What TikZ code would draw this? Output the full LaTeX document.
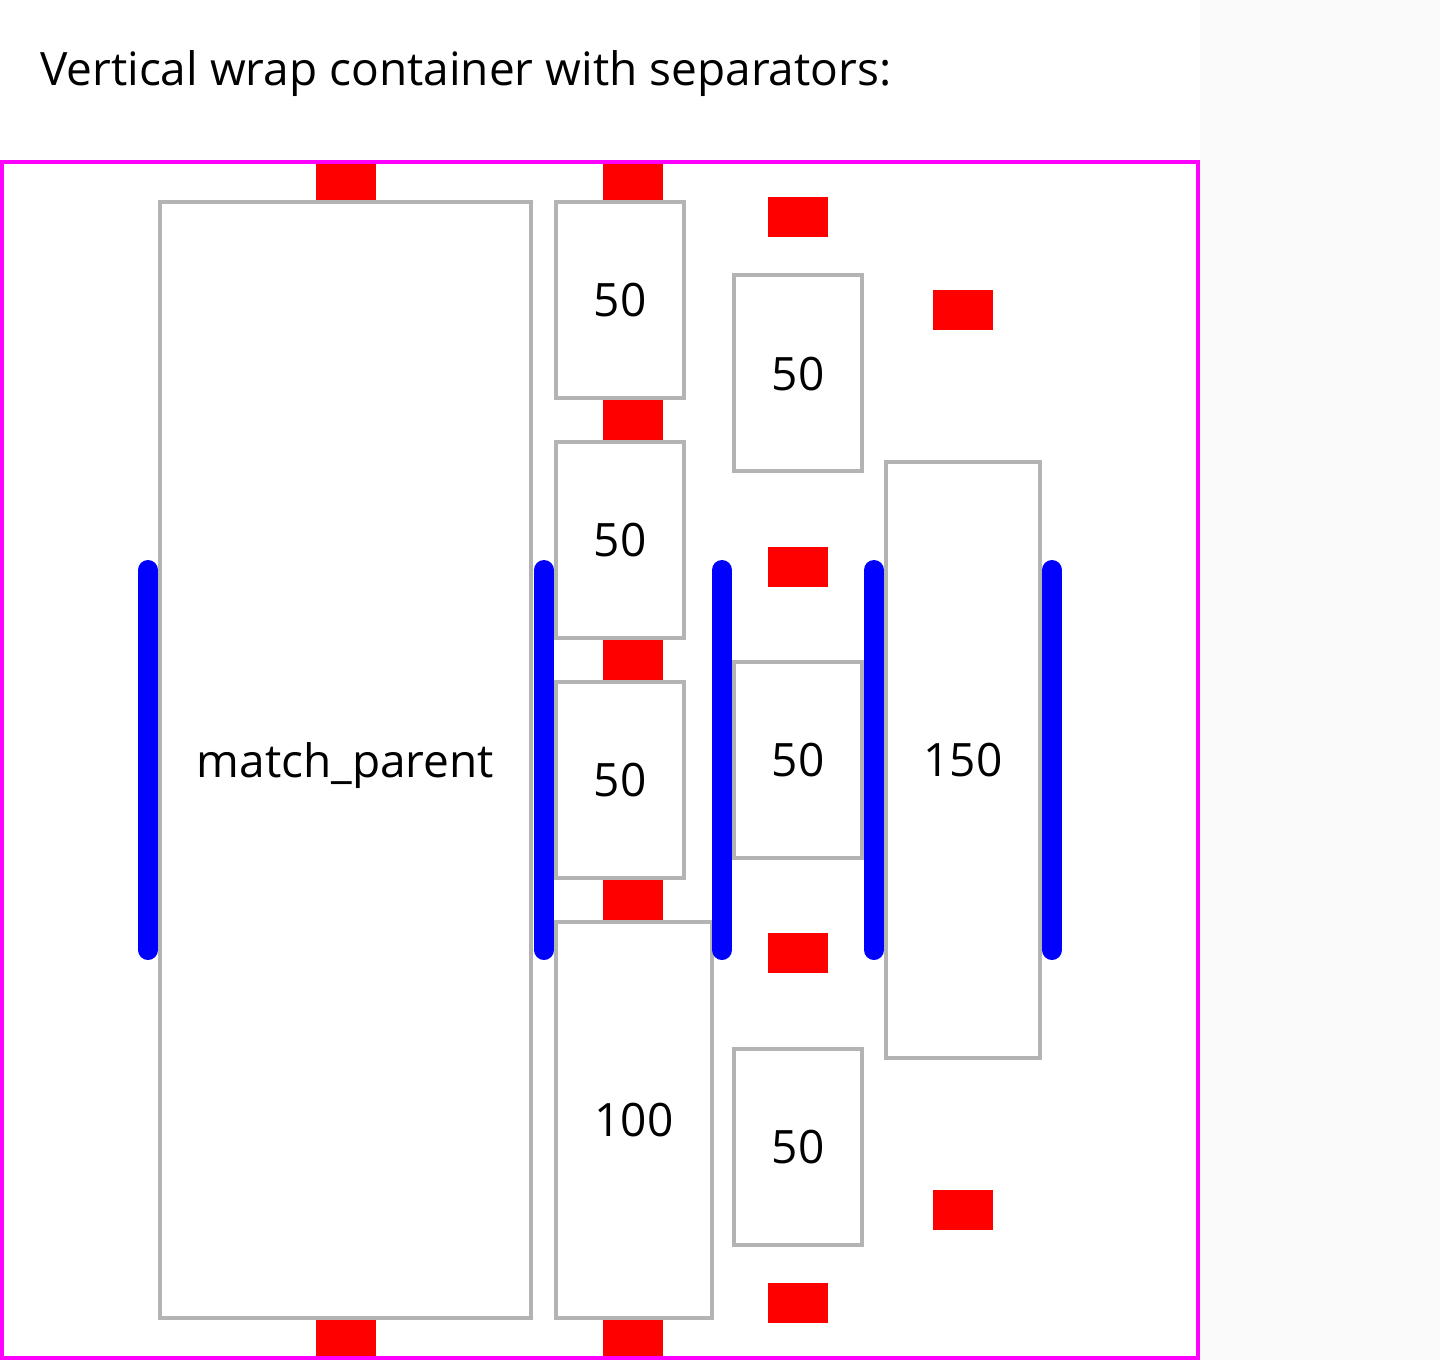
\documentclass[tikz,border=0pt]{standalone}
\usepackage{fontspec}
\setmainfont{Open Sans}
\usepackage{xcolor}
\usetikzlibrary{positioning}

\definecolor{boxgray}{HTML}{B3B3B3}
\definecolor{pagegray}{HTML}{FAFAFA}
\definecolor{framemagenta}{HTML}{FF00FF}
\definecolor{sepred}{HTML}{FF0000}
\definecolor{sepblue}{HTML}{0000FF}

\tikzset{
    itembox/.style={draw=boxgray, line width=4pt, fill=white, inner sep=0pt, outer sep=0pt,
        minimum width=128pt, minimum height=196pt, text depth=0pt, font=\fontsize{46}{56}\selectfont},
    sepmark/.style={fill=sepred, inner sep=0pt, outer sep=0pt, minimum width=60pt, minimum height=40pt},
    sepline/.style={draw=sepblue, line width=20pt, line cap=round}
}

\begin{document}
\begin{tikzpicture}[x=1pt, y=-1pt]
    % Page
    \useasboundingbox (0,0) rectangle (1440,1360);
    \fill[white] (0,0) rectangle (1200,1360);
    \fill[pagegray] (1200,0) rectangle (1440,1360);

    % Title
    \node[anchor=base west, inner sep=0pt, font=\fontsize{46}{56}\selectfont] (title) at (40,85)
        {Vertical wrap container with separators:};

    % Column 1
    \node[itembox, minimum width=371pt, minimum height=1116pt] (parent) at (345.5,760) {match\_parent};
    \node[sepmark] (sepA1) at (346,180) {};
    \node[sepmark] (sepA2) at (346,1340) {};

    % Column 2
    \node[itembox] (boxB1) at (620,300) {50};
    \node[itembox] (boxB2) at (620,540) {50};
    \node[itembox] (boxB3) at (620,780) {50};
    \node[itembox, minimum width=156pt, minimum height=396pt] (boxB4) at (634,1120) {100};
    \foreach \y [count=\i] in {180,420,660,900,1340}
        \node[sepmark] (sepB\i) at (633,\y) {};

    % Column 3
    \node[itembox] (boxC1) at (798,373.33) {50};
    \node[itembox] (boxC2) at (798,760) {50};
    \node[itembox] (boxC3) at (798,1146.67) {50};
    \foreach \y [count=\i] in {216.67,566.67,953.33,1303.33}
        \node[sepmark] (sepC\i) at (798,\y) {};

    % Column 4
    \node[itembox, minimum width=154pt, minimum height=596pt] (boxD1) at (963,760) {150};
    \node[sepmark] (sepD1) at (963,310) {};
    \node[sepmark] (sepD2) at (963,1210) {};

    % Column separators
    \foreach \x in {148,544,722,874,1052}
        \draw[sepline] (\x,570) -- (\x,950);

    % Container
    \draw[framemagenta, line width=4pt] (2,162) rectangle (1198,1358);
\end{tikzpicture}
\end{document}
